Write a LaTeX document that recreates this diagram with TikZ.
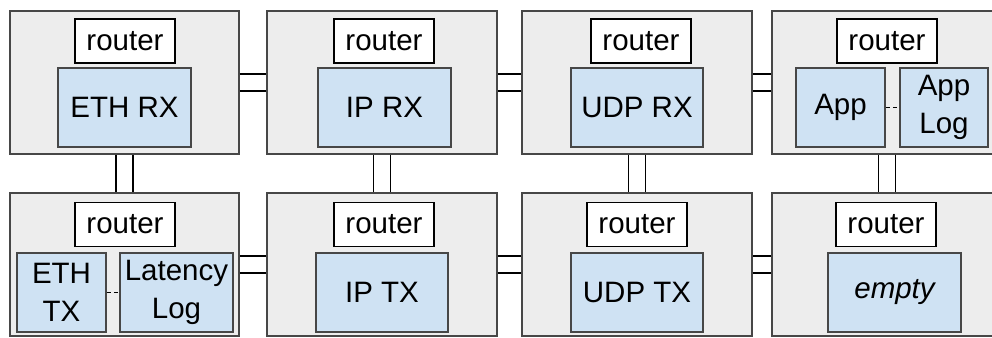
\documentclass[tikz,border=0pt]{standalone}
\usepackage{fontspec}
\setmainfont{Liberation Sans}
\begin{document}
\begin{tikzpicture}[x=1pt,y=-1pt,
  tile/.style={draw=black!72, line width=1.8pt, fill=black!7, rectangle,
    inner sep=0pt, minimum width=230pt, minimum height=143pt},
  router/.style={draw=black, line width=1.8pt, fill=white, rectangle,
    inner sep=0pt, minimum width=100pt, minimum height=44pt,
    font=\fontsize{29.5}{34}\selectfont},
  block/.style={draw=black!72, line width=1.8pt, fill={rgb,255:red,207;green,226;blue,243},
    rectangle, inner sep=0pt, minimum height=79pt, align=center,
    font=\fontsize{29.5}{38}\selectfont},
  link/.style={draw=black, line width=1.8pt},
  dashlink/.style={draw=black, line width=1.8pt, dash pattern=on 4pt off 3pt}]
\useasboundingbox (0,0) rectangle (992,337);
\clip (0,0) rectangle (992,337);

% tiles
\node[tile, minimum width=229pt] (t11) at (124.5,82.5) {};
\node[tile] (t12) at (382,82.5) {};
\node[tile] (t13) at (637,82.5) {};
\node[tile] (t14) at (887,82.5) {};
\node[tile, minimum width=229pt] (t21) at (124.5,264.5) {};
\node[tile] (t22) at (382,264.5) {};
\node[tile] (t23) at (637,264.5) {};
\node[tile] (t24) at (887,264.5) {};

% horizontal double links
\foreach \a/\b in {t11/t12,t12/t13,t13/t14,t21/t22,t22/t23,t23/t24}{
  \draw[link] ([yshift=8.5pt]\a.east) -- ([yshift=8.5pt]\b.west);
  \draw[link] ([yshift=-8.5pt]\a.east) -- ([yshift=-8.5pt]\b.west);
}
% vertical double links
\foreach \a/\b in {t11/t21,t12/t22,t13/t23,t14/t24}{
  \draw[link] ([xshift=-8.5pt]\a.south) -- ([xshift=-8.5pt]\b.north);
  \draw[link] ([xshift=8.5pt]\a.south) -- ([xshift=8.5pt]\b.north);
}

% routers
\node[router] (r11) at (125,41) {router};
\node[router] (r12) at (384,41) {router};
\node[router] (r13) at (641,41) {router};
\node[router] (r14) at (887,41) {router};
\node[router] (r21) at (125,224.5) {router};
\node[router] (r22) at (384,224.5) {router};
\node[router] (r23) at (637,224.5) {router};
\node[router] (r24) at (886,224.5) {router};

% top row blocks
\node[block, minimum width=133pt] (ethrx) at (124.5,107.5) {ETH RX};
\node[block, minimum width=133pt] (iprx) at (384.5,107.5) {IP RX};
\node[block, minimum width=132pt] (udprx) at (637,107.5) {UDP RX};
\node[block, minimum width=89pt] (app) at (840.5,107.5) {App};
\node[block, minimum width=88pt] (applog) at (944,107.5) {App\\Log};

% bottom row blocks
\node[block, minimum width=89pt] (ethtx) at (61.5,292.5) {ETH\\TX};
\node[block, minimum width=113pt] (latlog) at (176.5,292.5) {Latency\\Log};
\node[block, minimum width=132pt] (iptx) at (382,292.5) {IP TX};
\node[block, minimum width=132pt] (udptx) at (637,292.5) {UDP TX};
\node[block, minimum width=133pt] (empty) at (894.5,292.5) {\itshape empty};

% dashed side links
\draw[dashlink] (app.east) -- (applog.west);
\draw[dashlink] (ethtx.east) -- (latlog.west);
\end{tikzpicture}
\end{document}
